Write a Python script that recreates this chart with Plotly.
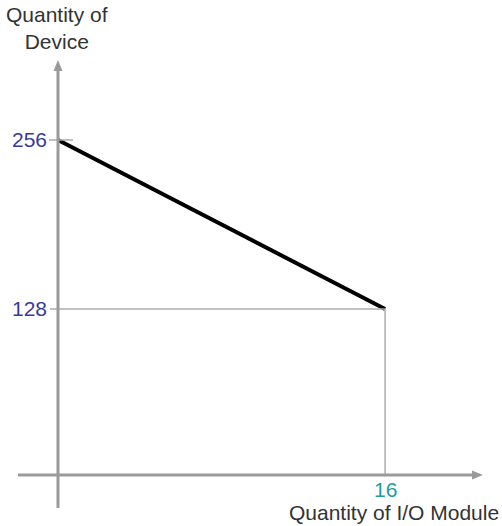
import plotly.graph_objects as go

# ---- data ----
io_modules = [0, 16]
devices = [256, 128]
y_tick_values = [256, 128]
y_tick_labels = ["256", "128"]
x_tick_values = [16]
x_tick_labels = ["16"]
x_title = "Quantity of I/O Module"
y_title = "Quantity of<br>Device"

W, H = 502, 526
# pixel calibration helpers (layout only)
X0, X1 = -2.838, 21.72
Y0, Y1 = -36.36, 362.03


def px(x):
    return x / W


def py(y):
    return 1 - y / H


def dx(p):
    return X0 + p / W * (X1 - X0)


def dy(p):
    return Y1 - p / H * (Y1 - Y0)


AXIS = "#9a9a9a"
GUIDE = "#ababab"
FONT = "Liberation Sans, Arial, sans-serif"

fig = go.Figure()
fig.add_trace(go.Scatter(x=io_modules, y=devices, mode="lines",
                         line=dict(color="black", width=4), hoverinfo="skip",
                         showlegend=False))

shapes = []
# guide lines from the end point
shapes.append(dict(type="line", xref="x", yref="y", x0=dx(50), x1=io_modules[-1],
                   y0=devices[-1], y1=devices[-1], line=dict(color=GUIDE, width=1.5)))
shapes.append(dict(type="line", xref="x", yref="y", x0=io_modules[-1], x1=io_modules[-1],
                   y0=devices[-1], y1=dy(475), line=dict(color=GUIDE, width=1.5)))
# tick at top value
shapes.append(dict(type="line", xref="x", yref="y", x0=dx(49), x1=dx(73),
                   y0=devices[0], y1=devices[0], line=dict(color=GUIDE, width=1.5)))
# axes
shapes.append(dict(type="line", xref="paper", yref="paper", x0=px(58), x1=px(58),
                   y0=py(508), y1=py(68), line=dict(color=AXIS, width=3)))
shapes.append(dict(type="path", xref="paper", yref="paper",
                   path=f"M {px(58)},{py(60)} L {px(53.5)},{py(71)} L {px(62.5)},{py(71)} Z",
                   fillcolor=AXIS, line=dict(width=0)))
shapes.append(dict(type="line", xref="paper", yref="paper", x0=px(18), x1=px(474),
                   y0=py(475), y1=py(475), line=dict(color=AXIS, width=3)))
shapes.append(dict(type="path", xref="paper", yref="paper",
                   path=f"M {px(483)},{py(475)} L {px(472)},{py(470.5)} L {px(472)},{py(479.5)} Z",
                   fillcolor=AXIS, line=dict(width=0)))

annotations = []
for v, t in zip(y_tick_values, y_tick_labels):
    annotations.append(dict(xref="paper", yref="y", x=px(49), y=v, text=t,
                            xanchor="right", yanchor="middle", showarrow=False,
                            font=dict(family=FONT, size=21, color="#3a3a9c")))
for v, t in zip(x_tick_values, x_tick_labels):
    annotations.append(dict(xref="x", yref="paper", x=v, y=py(476), text=t,
                            xanchor="center", yanchor="top", showarrow=False,
                            font=dict(family=FONT, size=21, color="#1f9c9c")))
annotations.append(dict(xref="paper", yref="paper", x=px(57), y=py(1), text=y_title,
                        xanchor="center", yanchor="top", showarrow=False,
                        font=dict(family=FONT, size=21, color="#333333")))
annotations.append(dict(xref="paper", yref="paper", x=px(501), y=py(512), text=x_title,
                        xanchor="right", yanchor="middle", showarrow=False,
                        font=dict(family=FONT, size=21, color="#333333")))

fig.update_layout(
    width=W, height=H,
    margin=dict(l=0, r=0, t=0, b=0),
    paper_bgcolor="white", plot_bgcolor="white",
    xaxis=dict(range=[X0, X1], visible=False, fixedrange=True),
    yaxis=dict(range=[Y0, Y1], visible=False, fixedrange=True),
    shapes=shapes, annotations=annotations,
)

fig.write_html("out.html", config={"displayModeBar": False},
               post_script="document.body.style.margin='0';document.body.style.overflow='hidden';")
